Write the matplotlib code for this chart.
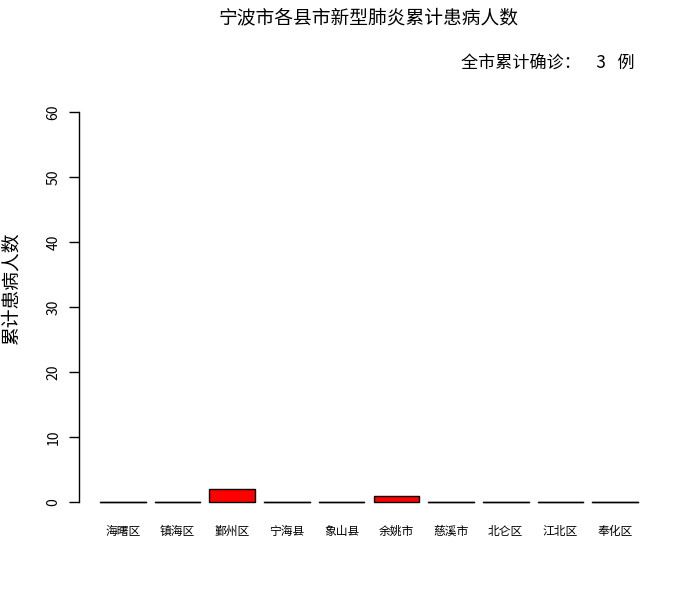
import matplotlib
matplotlib.use("Agg")
import matplotlib.pyplot as plt

plt.rcParams["font.family"] = ["Noto Sans CJK SC", "DejaVu Sans"]

# data
districts = ["海曙区", "镇海区", "鄞州区", "宁海县", "象山县", "余姚市", "慈溪市", "北仑区", "江北区", "奉化区"]
cases = [0, 0, 2, 0, 0, 1, 0, 0, 0, 0]
total = sum(cases)

fig = plt.figure(figsize=(7, 6), dpi=100)
ax = fig.add_axes([78.5 / 700, 1 - 517.6 / 600, 581 / 700, 421.2 / 600])

# R barplot style: width 1, space 0.2
pos = [0.2 + 1.2 * i + 0.5 for i in range(len(cases))]
ax.bar(pos, cases, width=1.0, color="red", edgecolor="black", linewidth=1.0)
for p, v in zip(pos, cases):
    if v == 0:
        ax.plot([p - 0.5, p + 0.5], [0, 0], color="black", linewidth=1.0)

ax.set_xlim(-0.272, 12.472)
ax.set_ylim(-2.4, 62.4)

for s in ["top", "right", "bottom"]:
    ax.spines[s].set_visible(False)
ax.spines["left"].set_bounds(0, 60)
ax.spines["left"].set_linewidth(1.0)

ax.set_yticks(range(0, 61, 10))
ax.tick_params(axis="y", length=7, width=1.0, labelsize=10, pad=6)
for lab in ax.get_yticklabels():
    lab.set_rotation(90)
    lab.set_va("center")

ax.set_xticks(pos)
ax.set_xticklabels(districts, fontsize=8.5)
ax.tick_params(axis="x", length=0, pad=5)

ax.set_ylabel("累计患病人数", fontsize=13.5)
ax.yaxis.set_label_coords(-0.098, 0.543)

fig.text(369 / 700, 1 - 18 / 600, "宁波市各县市新型肺炎累计患病人数", ha="center", va="center", fontsize=13.5)
fig.text(635 / 700, 1 - 64 / 600, f"全市累计确诊：    {total}   例", ha="right", va="center", fontsize=12.3)

fig.savefig("out.png", dpi=100)
